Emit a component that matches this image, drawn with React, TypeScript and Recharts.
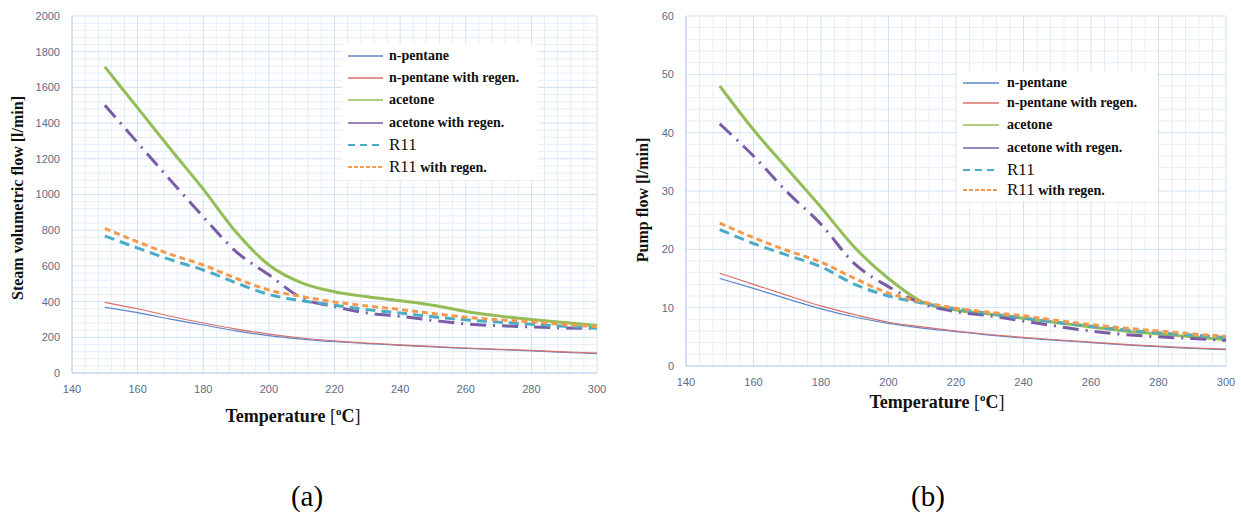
import { CartesianGrid, Line, LineChart, XAxis, YAxis } from 'recharts';

// temperatures (°C) shared by both panels
const TEMPS = [150, 160, 170, 180, 190, 200, 210, 220, 230, 240, 250, 260, 270, 280, 290, 300];
const X_TICKS = [140, 160, 180, 200, 220, 240, 260, 280, 300];
const X_MINOR = [144, 148, 152, 156, 164, 168, 172, 176, 184, 188, 192, 196, 204, 208, 212, 216, 224, 228, 232, 236, 244, 248, 252, 256, 264, 268, 272, 276, 284, 288, 292, 296];

// (a) steam volumetric flow [l/min]
const A_Y_TICKS = [0, 200, 400, 600, 800, 1000, 1200, 1400, 1600, 1800, 2000];
const A_Y_MINOR = [40, 80, 120, 160, 240, 280, 320, 360, 440, 480, 520, 560, 640, 680, 720, 760, 840, 880, 920, 960, 1040, 1080, 1120, 1160, 1240, 1280, 1320, 1360, 1440, 1480, 1520, 1560, 1640, 1680, 1720, 1760, 1840, 1880, 1920, 1960];
const A_PENTANE = [368, 338, 302, 269, 236, 209, 190, 175, 165, 155, 146, 138, 131, 124, 116, 108];
const A_PENTANE_REGEN = [396, 360, 318, 280, 246, 218, 196, 180, 168, 158, 149, 140, 133, 127, 118, 112];
const A_ACETONE = [1715, 1485, 1255, 1030, 790, 605, 505, 455, 427, 405, 380, 345, 320, 300, 283, 266];
const A_ACETONE_REGEN = [1500, 1290, 1080, 875, 680, 550, 420, 372, 336, 318, 295, 275, 265, 258, 253, 250];
const A_R11 = [768, 700, 635, 577, 505, 440, 405, 380, 355, 336, 315, 298, 285, 273, 262, 251];
const A_R11_REGEN = [810, 735, 665, 605, 530, 465, 428, 398, 375, 356, 333, 313, 298, 287, 272, 260];

// (b) pump flow [l/min]
const B_Y_TICKS = [0, 10, 20, 30, 40, 50, 60];
const B_Y_MINOR = [2, 4, 6, 8, 12, 14, 16, 18, 22, 24, 26, 28, 32, 34, 36, 38, 42, 44, 46, 48, 52, 54, 56, 58];
const B_PENTANE = [15.0, 13.3, 11.5, 9.8, 8.4, 7.3, 6.5, 5.9, 5.3, 4.8, 4.4, 4.0, 3.6, 3.3, 3.0, 2.8];
const B_PENTANE_REGEN = [15.9, 14.0, 12.1, 10.3, 8.8, 7.5, 6.7, 6.0, 5.4, 4.9, 4.5, 4.1, 3.7, 3.4, 3.1, 2.9];
const B_ACETONE = [48, 40.5, 33.8, 27.2, 20.3, 15.0, 11.0, 9.6, 8.9, 8.2, 7.4, 6.7, 6.0, 5.5, 5.0, 4.5];
const B_ACETONE_REGEN = [41.5, 36, 29.8, 24.3, 17.5, 13.6, 10.7, 9.3, 8.6, 7.7, 6.8, 6.0, 5.4, 5.0, 4.7, 4.4];
const B_R11 = [23.4, 21.0, 19.0, 17.0, 14.0, 12.0, 10.8, 9.8, 9.0, 8.2, 7.5, 6.8, 6.2, 5.7, 5.3, 4.9];
const B_R11_REGEN = [24.5, 22.0, 19.8, 17.8, 15.0, 12.5, 11.0, 9.9, 9.2, 8.6, 7.8, 7.1, 6.5, 6.0, 5.5, 5.1];

const SERIES = [
  { key: 'pentane', name: 'n-pentane', color: '#5b86cc', width: 1.2, dash: undefined as string | undefined },
  { key: 'pentaneRegen', name: 'n-pentane with regen.', color: '#d9706a', width: 1.2, dash: undefined },
  { key: 'acetone', name: 'acetone', color: '#93bd55', width: 3, dash: undefined },
  { key: 'acetoneRegen', name: 'acetone with regen.', color: '#7a5ba6', width: 3, dash: '16 7 2 7' },
  { key: 'r11', name: 'R11', color: '#4aacc6', width: 3, dash: '10 6' },
  { key: 'r11Regen', name: 'R11 with regen.', color: '#f59a4c', width: 3, dash: '6 4' },
];

const buildRows = (cols: number[][]) =>
  TEMPS.map((t, i) => ({
    t,
    pentane: cols[0][i],
    pentaneRegen: cols[1][i],
    acetone: cols[2][i],
    acetoneRegen: cols[3][i],
    r11: cols[4][i],
    r11Regen: cols[5][i],
  }));

const DATA_A = buildRows([A_PENTANE, A_PENTANE_REGEN, A_ACETONE, A_ACETONE_REGEN, A_R11, A_R11_REGEN]);
const DATA_B = buildRows([B_PENTANE, B_PENTANE_REGEN, B_ACETONE, B_ACETONE_REGEN, B_R11, B_R11_REGEN]);

const TICK = { fill: '#5a6d8a', fontSize: 11, fontFamily: "'Liberation Sans', Arial, sans-serif" };
const SERIF = "'Liberation Serif', 'Times New Roman', serif";

function Panel(props: {
  data: typeof DATA_A;
  yTicks: number[];
  yMinor: number[];
  yMax: number;
  width: number;
  height: number;
  margin: { top: number; right: number; bottom: number; left: number };
  yWidth: number;
}) {
  const { data, yTicks, yMinor, yMax, width, height, margin, yWidth } = props;
  return (
    <LineChart width={width} height={height} data={data} margin={margin}>
      {/* minor grid first, major grid on top of it */}
      <CartesianGrid horizontalValues={yMinor} verticalValues={X_MINOR} stroke="#e6eef9" strokeWidth={1} />
      <CartesianGrid stroke="#d3e1f3" strokeWidth={1} />
      <XAxis
        type="number"
        dataKey="t"
        domain={[140, 300]}
        ticks={X_TICKS}
        interval={0}
        tickLine={false}
        tickMargin={6}
        axisLine={{ stroke: '#bcd0ec' }}
        tick={TICK}
      />
      <YAxis
        type="number"
        domain={[0, yMax]}
        ticks={yTicks}
        interval={0}
        width={yWidth}
        tickLine={false}
        tickMargin={6}
        axisLine={{ stroke: '#bcd0ec' }}
        tick={TICK}
      />
      {SERIES.map((s) => (
        <Line
          key={s.key}
          type="monotone"
          dataKey={s.key}
          name={s.name}
          stroke={s.color}
          strokeWidth={s.width}
          strokeDasharray={s.dash}
          dot={false}
          isAnimationActive={false}
        />
      ))}
    </LineChart>
  );
}

function LegendBox(props: { left: number; top: number; width: number; height: number; rows: number[]; lineX: [number, number]; textX: number }) {
  const { left, top, width, height, rows, lineX, textX } = props;
  return (
    <div style={{ position: 'absolute', left, top, width, height, background: '#ffffff' }}>
      {SERIES.map((s, i) => {
        const isR11 = s.name.startsWith('R11');
        return (
          <div key={s.key} style={{ position: 'absolute', left: 0, top: rows[i] - top - 10, height: 20, width }}>
            <svg width={width} height={20} style={{ position: 'absolute', left: 0, top: 0 }}>
              <line
                x1={lineX[0] - left}
                x2={lineX[1] - left}
                y1={10}
                y2={10}
                stroke={s.color}
                strokeWidth={isR11 ? 2 : 1.6}
                strokeDasharray={s.key === 'r11' ? '7 5' : s.key === 'r11Regen' ? '4 2' : undefined}
              />
            </svg>
            <div
              style={{
                position: 'absolute',
                left: textX - left,
                top: 0,
                lineHeight: '20px',
                whiteSpace: 'nowrap',
                fontFamily: SERIF,
                fontWeight: 'bold',
                fontSize: 14,
                color: '#111',
              }}
            >
              {isR11 ? (
                <>
                  <span style={{ fontSize: 17, fontWeight: 'normal' }}>R11</span>
                  {s.name.slice(3)}
                </>
              ) : (
                s.name
              )}
            </div>
          </div>
        );
      })}
    </div>
  );
}

function XTitle(props: { cx: number; cy: number }) {
  return (
    <div
      style={{
        position: 'absolute',
        left: props.cx - 100,
        top: props.cy - 12,
        width: 200,
        textAlign: 'center',
        fontFamily: SERIF,
        fontSize: 18,
        lineHeight: '24px',
        color: '#111',
      }}
    >
      <b>Temperature</b> [<sup style={{ fontSize: 11, fontWeight: 'bold' }}>o</sup><b>C</b>]
    </div>
  );
}

function YTitle(props: { cx: number; cy: number; text: string }) {
  return (
    <div
      style={{
        position: 'absolute',
        left: props.cx - 150,
        top: props.cy - 10,
        width: 300,
        textAlign: 'center',
        transform: 'rotate(-90deg)',
        fontFamily: SERIF,
        fontWeight: 'bold',
        fontSize: 16,
        lineHeight: '20px',
        color: '#111',
      }}
    >
      {props.text}
    </div>
  );
}

export default function App() {
  return (
    <div style={{ position: 'absolute', left: 0, top: 0, width: 1241, height: 515, background: '#fff', overflow: 'hidden' }}>
      <div style={{ position: 'absolute', left: 0, top: 0 }}>
        <Panel
          data={DATA_A}
          yTicks={A_Y_TICKS}
          yMinor={A_Y_MINOR}
          yMax={2000}
          width={620}
          height={430}
          margin={{ top: 16, right: 23, bottom: 27, left: 0 }}
          yWidth={72}
        />
      </div>
      <div style={{ position: 'absolute', left: 620, top: 0 }}>
        <Panel
          data={DATA_B}
          yTicks={B_Y_TICKS}
          yMinor={B_Y_MINOR}
          yMax={60}
          width={621}
          height={420}
          margin={{ top: 16, right: 15, bottom: 24, left: 0 }}
          yWidth={66}
        />
      </div>

      <LegendBox left={342} top={44} width={196} height={136} rows={[56, 78, 100, 123, 145, 167]} lineX={[348, 383]} textX={389} />
      <LegendBox left={957} top={71} width={200} height={130} rows={[83, 103, 125, 148, 170, 190]} lineX={[963, 999]} textX={1007} />

      <YTitle cx={18} cy={198} text="Steam volumetric flow [l/min]" />
      <YTitle cx={643} cy={200} text="Pump flow [l/min]" />
      <XTitle cx={293} cy={411} />
      <XTitle cx={937} cy={397} />

      <div style={{ position: 'absolute', left: 267, top: 478, width: 80, textAlign: 'center', fontFamily: SERIF, fontSize: 29, lineHeight: '36px' }}>
        (a)
      </div>
      <div style={{ position: 'absolute', left: 888, top: 478, width: 80, textAlign: 'center', fontFamily: SERIF, fontSize: 29, lineHeight: '36px' }}>
        (b)
      </div>
    </div>
  );
}
